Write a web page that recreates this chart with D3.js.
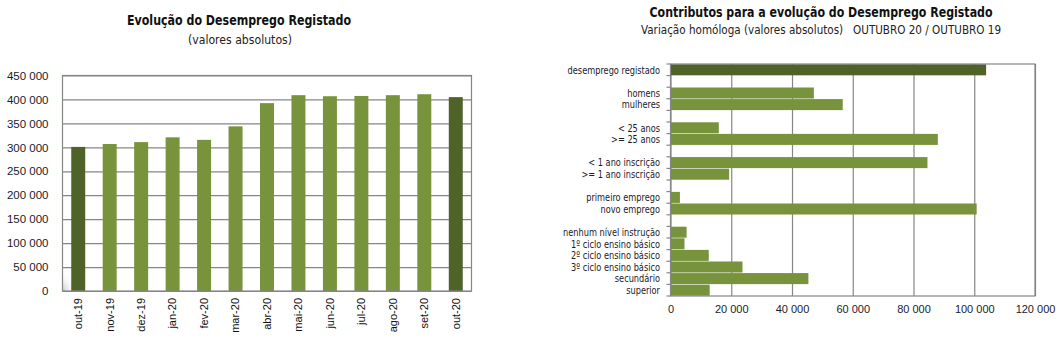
<!DOCTYPE html>
<html>
<head>
<meta charset="utf-8">
<script src="https://cdn.jsdelivr.net/npm/d3@7"></script>
<style>
  html, body { margin: 0; padding: 0; background: #fff; }
  svg { display: block; }
  .din { font-family: "DejaVu Sans Condensed", "Liberation Sans Narrow", "DejaVu Sans", sans-serif; font-stretch: condensed; }
  .num { font-family: "Liberation Sans", Arial, sans-serif; }
</style>
</head>
<body>
<svg id="chart" width="1063" height="341"></svg>
<script>
// ---- Registered unemployment, monthly totals ----
const months = ["out-19", "nov-19", "dez-19", "jan-20", "fev-20", "mar-20", "abr-20",
                "mai-20", "jun-20", "jul-20", "ago-20", "set-20", "out-20"];
const unemployed = [300900, 306900, 310900, 320900, 315600, 343800, 392300,
                    408900, 406700, 407300, 408900, 410900, 404800];
const highlightMonths = ["out-19", "out-20"];
const leftTicks = [0, 50000, 100000, 150000, 200000, 250000, 300000, 350000, 400000, 450000];

// ---- Year-on-year change by group (Oct 20 / Oct 19) ----
const groupTotal = ["desemprego registado"];
const groupSex = ["homens", "mulheres"];
const groupAge = ["< 25 anos", ">= 25 anos"];
const groupDuration = ["< 1 ano inscrição", ">= 1 ano inscrição"];
const groupSituation = ["primeiro emprego", "novo emprego"];
const groupSchooling = ["nenhum nível instrução", "1º ciclo ensino básico", "2º ciclo ensino básico",
                        "3º ciclo ensino básico", "secundário", "superior"];

const changeTotal = [103900];
const changeSex = [47200, 56700];
const changeAge = [15900, 88000];
const changeDuration = [84600, 19300];
const changeSituation = [3100, 100800];
const changeSchooling = [5300, 4600, 12600, 23700, 45400, 12900];
const rightTicks = [0, 20000, 40000, 60000, 80000, 100000, 120000];

const DARK = "#4f6228";
const LIGHT = "#77933c";
const GRID = "#868686";
const fmt = v => d3.format(",")(v).replace(/,/g, " ");

const svg = d3.select("#chart");

// =============== Left chart: monthly totals ===============
{
  const m = { left: 62.5, right: 471.5, top: 75.5, bottom: 291 };
  const x = d3.scaleBand().domain(months).range([m.left, m.right])
    .paddingInner(0.556).paddingOuter(0.278);
  const y = d3.scaleLinear().domain([0, 450000]).range([m.bottom, m.top]);

  const g = svg.append("g");

  // soft shading in the lower-left corner of the plot
  const defs = svg.append("defs");
  const grad = defs.append("radialGradient").attr("id", "corner").attr("cx", "0").attr("cy", "1").attr("r", "1");
  grad.append("stop").attr("offset", "0").attr("stop-color", "#c8c8c8").attr("stop-opacity", 0.9);
  grad.append("stop").attr("offset", "1").attr("stop-color", "#ffffff").attr("stop-opacity", 0);
  g.append("rect").attr("x", m.left).attr("y", m.bottom - 20).attr("width", 14).attr("height", 20)
    .attr("fill", "url(#corner)");

  // gridlines
  const yAxis = d3.axisLeft(y).tickValues(leftTicks).tickSize(-(m.right - m.left)).tickFormat(fmt).tickPadding(14);
  const ya = g.append("g").attr("transform", `translate(${m.left},0)`).call(yAxis);
  ya.select(".domain").remove();
  ya.selectAll(".tick line").attr("stroke", GRID).attr("stroke-width", 1.2);
  ya.selectAll(".tick text").attr("class", "num").attr("font-size", 11.5).attr("fill", "#1a1a2a");

  g.selectAll("rect.bar").data(months).join("rect").attr("class", "bar")
    .attr("x", d => x(d)).attr("width", x.bandwidth())
    .attr("y", (d, i) => y(unemployed[i])).attr("height", (d, i) => y(0) - y(unemployed[i]))
    .attr("fill", d => highlightMonths.includes(d) ? DARK : LIGHT);

  // plot frame
  g.append("rect").attr("x", m.left).attr("y", m.top).attr("width", m.right - m.left).attr("height", m.bottom - m.top)
    .attr("fill", "none").attr("stroke", GRID).attr("stroke-width", 1.2);

  // rotated month labels
  g.selectAll("text.month").data(months).join("text").attr("class", "month num")
    .attr("transform", d => `translate(${x(d) + x.bandwidth() / 2},298) rotate(-90)`)
    .attr("text-anchor", "end").attr("dy", "0.35em").attr("font-size", 11).attr("fill", "#111")
    .text(d => d);

  g.append("text").attr("class", "din").attr("x", 239).attr("y", 25).attr("text-anchor", "middle")
    .attr("font-size", 14).attr("font-weight", "bold").attr("fill", "#111")
    .attr("textLength", 224).attr("lengthAdjust", "spacingAndGlyphs")
    .text("Evolução do Desemprego Registado");
  g.append("text").attr("class", "din").attr("x", 240).attr("y", 44).attr("text-anchor", "middle")
    .attr("font-size", 12).attr("fill", "#222")
    .attr("textLength", 104).attr("lengthAdjust", "spacingAndGlyphs")
    .text("(valores absolutos)");
}

// =============== Right chart: contributions ===============
{
  const m = { left: 670.5, right: 1035, top: 64, bottom: 296 };
  const groups = [groupTotal, groupSex, groupAge, groupDuration, groupSituation, groupSchooling];
  const values = [changeTotal, changeSex, changeAge, changeDuration, changeSituation, changeSchooling];

  // slots: categories separated by one empty slot per group
  const slots = [];
  const rows = [];
  groups.forEach((grp, gi) => {
    if (gi > 0) slots.push(`gap-${gi}`);
    grp.forEach((name, k) => {
      slots.push(name);
      rows.push({ name, value: values[gi][k], total: gi === 0 });
    });
  });

  const x = d3.scaleLinear().domain([0, 120000]).range([m.left, m.right]);
  const y = d3.scaleBand().domain(slots).range([m.top, m.bottom]).paddingInner(0.05).paddingOuter(0.025);

  const g = svg.append("g");

  const xAxis = d3.axisBottom(x).tickValues(rightTicks).tickSize(-(m.bottom - m.top)).tickFormat(fmt).tickPadding(9);
  const xa = g.append("g").attr("transform", `translate(0,${m.bottom})`).call(xAxis);
  xa.select(".domain").remove();
  xa.selectAll(".tick line").attr("stroke", GRID).attr("stroke-width", 1.2);
  xa.selectAll(".tick text").attr("class", "num").attr("font-size", 11).attr("fill", "#1a1a2a");

  g.selectAll("rect.bar").data(rows).join("rect").attr("class", "bar")
    .attr("x", x(0)).attr("width", d => x(d.value) - x(0))
    .attr("y", d => y(d.name)).attr("height", y.bandwidth())
    .attr("fill", d => d.total ? DARK : LIGHT);

  // frame: top, right, bottom and the category axis
  g.append("rect").attr("x", m.left).attr("y", m.top).attr("width", m.right - m.left).attr("height", m.bottom - m.top)
    .attr("fill", "none").attr("stroke", GRID).attr("stroke-width", 1.2);

  // short outer ticks at every slot boundary
  const step = y.step();
  const bounds = d3.range(slots.length + 1).map(i => m.top + i * step);
  g.selectAll("line.slot").data(bounds).join("line").attr("class", "slot")
    .attr("x1", m.left - 4).attr("x2", m.left).attr("y1", d => d).attr("y2", d => d)
    .attr("stroke", GRID).attr("stroke-width", 1.2);

  // category labels, set in a narrow face
  g.selectAll("text.cat").data(rows).join("text").attr("class", "cat din")
    .attr("x", 660).attr("y", d => y(d.name) + y.bandwidth() / 2).attr("dy", "0.35em")
    .attr("text-anchor", "end").attr("font-size", 11).attr("fill", "#1a1a2a")
    .text(d => d.name)
    .each(function () {
      const w = this.getComputedTextLength();
      d3.select(this).attr("textLength", w * 0.83).attr("lengthAdjust", "spacingAndGlyphs");
    });

  g.append("text").attr("class", "din").attr("x", 821).attr("y", 17).attr("text-anchor", "middle")
    .attr("font-size", 14).attr("font-weight", "bold").attr("fill", "#111")
    .attr("textLength", 343).attr("lengthAdjust", "spacingAndGlyphs")
    .text("Contributos para a evolução do Desemprego Registado");
  g.append("text").attr("class", "din").attr("x", 821).attr("y", 33.5).attr("text-anchor", "middle")
    .attr("font-size", 12).attr("fill", "#222").style("white-space", "pre")
    .attr("textLength", 360).attr("lengthAdjust", "spacingAndGlyphs")
    .text("Variação homóloga (valores absolutos)   OUTUBRO 20 / OUTUBRO 19");
}
</script>
</body>
</html>
